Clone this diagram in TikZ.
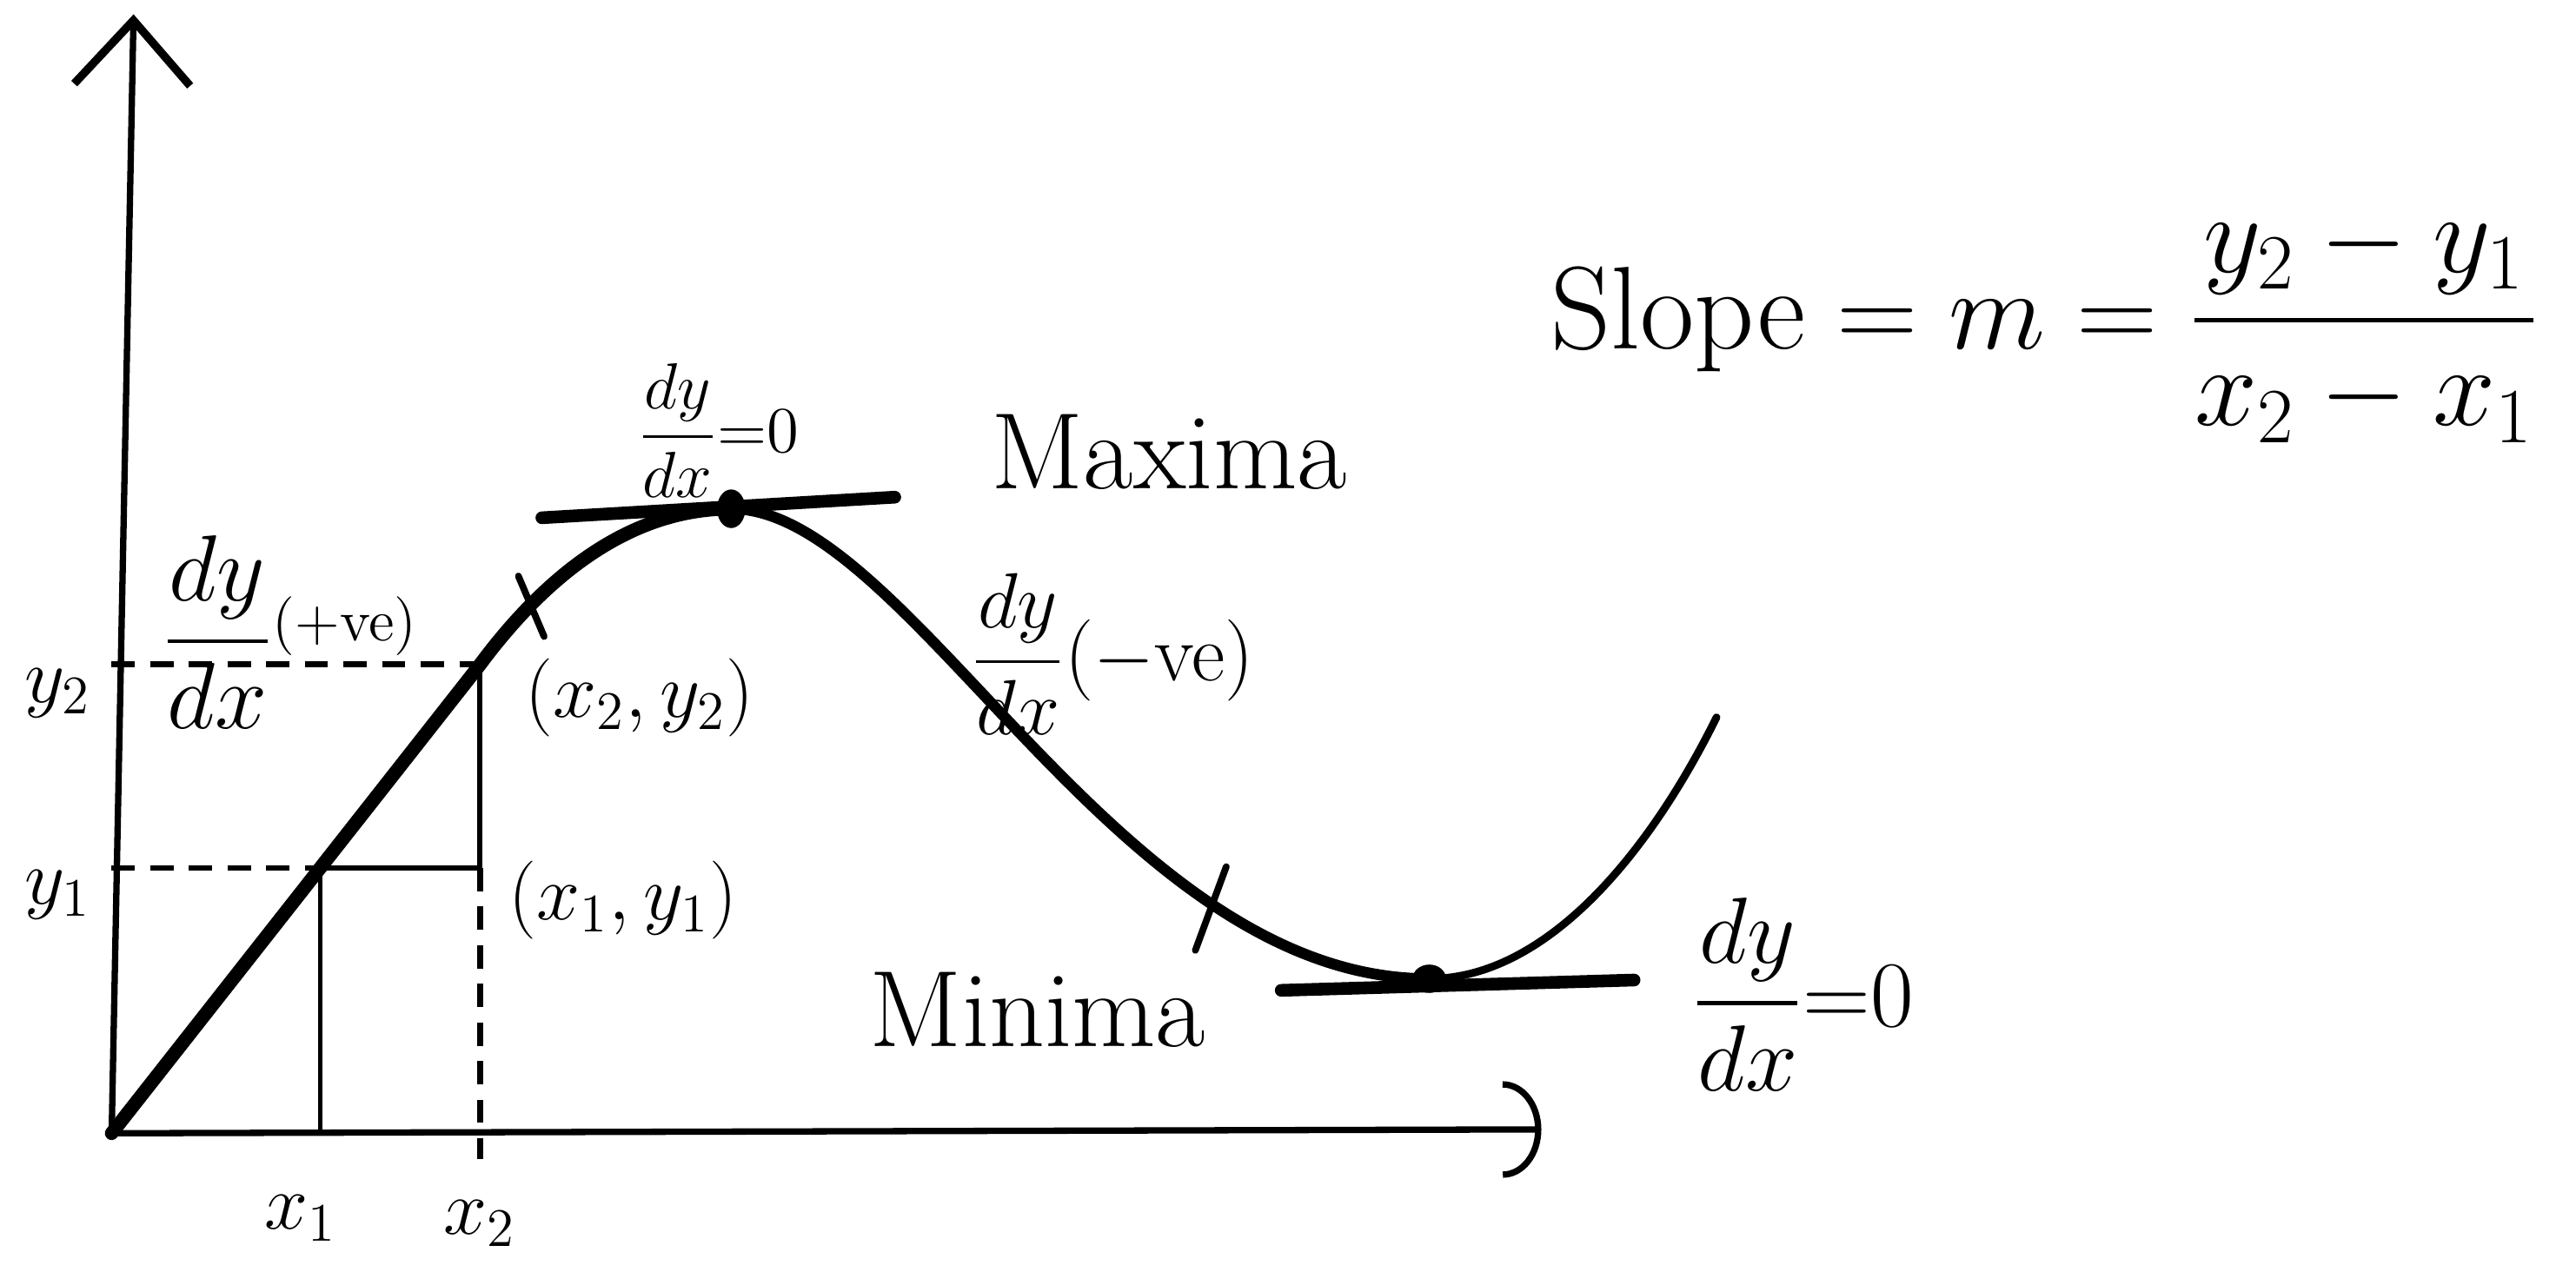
\documentclass[tikz,border=0pt]{standalone}
\usepackage{amsmath,amssymb}
\usepackage{tikz}
\usetikzlibrary{arrows.meta,positioning,calc}

\tikzset{
  axis/.style={line width=1.4pt},
  curve/.style={line width=3pt, line cap=round, line join=round},
  leg/.style={line width=1.1pt},
  guide/.style={line width=1.3pt, dash pattern=on 1.8mm off 1.2mm},
  tangent/.style={line width=2.8pt, line cap=round},
  cross/.style={line width=1.5pt, line cap=round},
  big/.style={font=\fontsize{24}{28}\selectfont},
  mid/.style={font=\fontsize{17}{20}\selectfont}
}

\begin{document}
\begin{tikzpicture}
\useasboundingbox (-0.867,-1.071) rectangle (19.133,8.801);

\coordinate (O) at (0,0);
\coordinate (ytop) at (0.17,8.69);
\coordinate (xend) at (11.1,0.03);
\coordinate (P1) at (1.62,2.06);
\coordinate (P2) at (2.86,3.64);
\coordinate (Q) at (2.86,2.06);
\coordinate (F1) at (1.62,0);
\coordinate (F2) at (2.86,-0.2);
\coordinate (Y1) at (0,2.06);
\coordinate (Y2) at (0,3.64);
\coordinate (max) at (4.81,4.85);
\coordinate (min) at (10.23,1.2);
\coordinate (tail) at (12.46,3.23);
\coordinate (maxl) at (3.34,4.78);
\coordinate (maxr) at (6.08,4.94);
\coordinate (minl) at (9.08,1.11);
\coordinate (minr) at (11.82,1.19);

\draw[axis, -{Straight Barb[length=5mm,width=9mm,line width=1.8pt]}] (O) -- (ytop);
\draw[axis, -{Arc Barb[length=3mm,width=7.5mm]}] (O) -- (xend);

\draw[guide] (Y1) -- (P1);
\draw[guide] (Y2) -- (P2);
\draw[guide] (Q) -- (F2);
\draw[leg] (F1) -- (P1) -- (Q) -- (P2);

\draw[curve] (O) -- (P2) .. controls (3.35,4.3) and (4.0,4.85) .. coordinate[pos=0.25] (c1) (max);
\draw[curve, line width=2.4pt] (max) .. controls (6.2,4.85) and (7.8,1.2) .. coordinate[pos=0.75] (c2) (min);
\draw[curve, line width=1.7pt] (min) .. controls (11.1,1.2) and (11.9,2.1) .. (tail);

\draw[cross] ($(c1)+(-0.1,0.22)$) -- ($(c1)+(0.1,-0.25)$);
\draw[cross] ($(c2)+(0.1,0.3)$) -- ($(c2)+(-0.14,-0.35)$);

\draw[tangent] (maxl) -- (maxr);
\draw[tangent] (minl) -- (minr);
\fill (max) ellipse (0.11 and 0.15);
\fill (min) ellipse (0.13 and 0.11);

\node[mid] (lblx1) at (1.47,-0.66) {$x_1$};
\node[mid] (lblx2) at (2.86,-0.70) {$x_2$};
\node[mid] (lbly1) at (-0.42,1.85) {$y_1$};
\node[mid] (lbly2) at (-0.42,3.42) {$y_2$};
\node[mid, anchor=west] (pt2) at (3.09,3.38) {$(x_2,y_2)$};
\node[mid, anchor=west] (pt1) at (2.96,1.81) {$(x_1,y_1)$};

\node[big] (maxlbl) at (8.21,5.29) {Maxima};
\node[big] (minlbl) at (7.19,0.96) {Minima};

\node[font=\fontsize{14}{16}\selectfont] (dmax) at (4.71,5.46) {$\dfrac{dy}{dx}{=}0$};
\node[font=\fontsize{20}{24}\selectfont] (dpos) at (1.38,3.89)
  {$\dfrac{dy}{dx}$\raisebox{0.6ex}{\fontsize{13}{15}\selectfont(+ve)}};
\node[font=\fontsize{16}{19}\selectfont] (dneg) at (7.77,3.72)
  {$\dfrac{dy}{dx}$\fontsize{18}{21}\selectfont($-$ve)};
\node[font=\fontsize{22}{26}\selectfont] (dmin) at (13.13,1.08) {$\dfrac{dy}{dx}{=}0$};

\node[font=\fontsize{26}{30}\selectfont] (slope) at (15.01,6.28)
  {Slope${}={}m{}={}\dfrac{y_2-y_1}{x_2-x_1}$};
\end{tikzpicture}
\end{document}
